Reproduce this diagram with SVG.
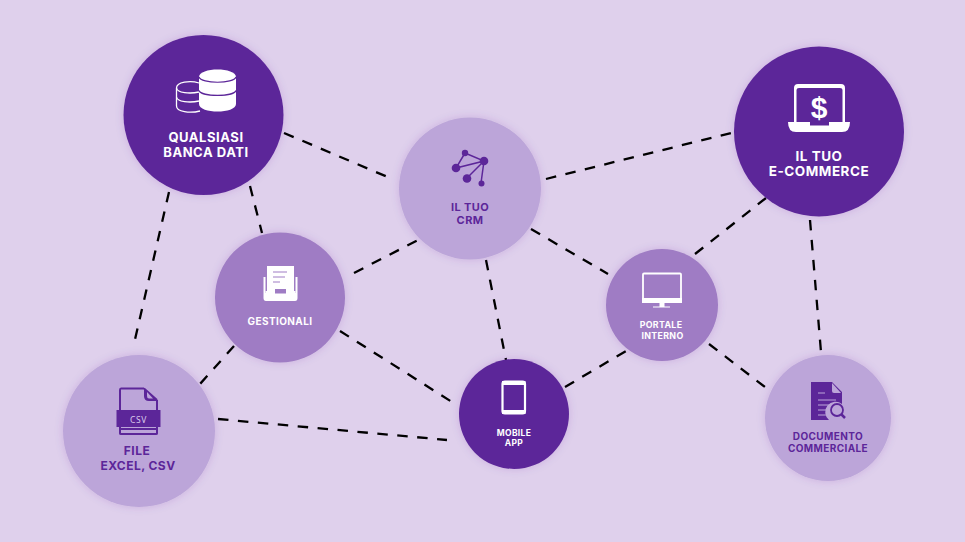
<svg xmlns="http://www.w3.org/2000/svg" width="965" height="542" viewBox="0 0 965 542">
  <style>
    text { font-family: "Inter", "Liberation Sans", sans-serif; font-weight: 700; text-anchor: middle; }
    .dark { fill: #5c2699; }
    .mid { fill: #9f7cc4; }
    .light { fill: #bca5d9; }
    .w { fill: #fff; }
    .p { fill: #5c2699; }
    .links line { stroke: #000; stroke-width: 2.300; stroke-dasharray: 10.500 9.500; fill: none; }
  </style>
  <defs>
    <filter id="halo" x="-20%" y="-20%" width="140%" height="140%">
      <feDropShadow dx="0" dy="0" stdDeviation="4" flood-color="#5c2699" flood-opacity="0.16"/>
    </filter>
  </defs>
  <rect width="965" height="542" fill="#dfd0ec"/>

  <g id="connectors" class="links">
    <line x1="284" y1="133" x2="390" y2="178"/>
    <line x1="169" y1="192" x2="133" y2="348"/>
    <line x1="250" y1="186" x2="262" y2="233"/>
    <line x1="546" y1="179" x2="731" y2="133"/>
    <line x1="354" y1="273" x2="418" y2="240"/>
    <line x1="531" y1="229" x2="608" y2="274"/>
    <line x1="486" y1="260" x2="506" y2="360"/>
    <line x1="695" y1="254" x2="766" y2="198"/>
    <line x1="810" y1="220" x2="821" y2="352"/>
    <line x1="340" y1="331" x2="452" y2="402"/>
    <line x1="234" y1="346" x2="200" y2="384"/>
    <line x1="218" y1="419" x2="447" y2="440"/>
    <line x1="565" y1="387" x2="626" y2="351"/>
    <line x1="709" y1="344" x2="765" y2="387"/>
  </g>

  <g id="banca-dati">
    <circle class="dark" cx="203.500" cy="115" r="80" filter="url(#halo)"/>
    <!-- small outlined cylinder behind the solid one -->
    <g fill="none" stroke="#fff" stroke-width="1.300">
      <path d="M199 83 C190 80 176.500 82 176.500 88 V106 C176.500 112 190 113.500 200 111"/>
      <path d="M176.500 88 C177 93 190 94 199 92"/>
      <path d="M176.500 97 C177 102 190 103 199 101"/>
    </g>
    <path class="w" d="M199 77 C199 67 236 67 236 77 V104 C236 114 199 114 199 104Z"/>
    <g fill="none" stroke="#5c2699" stroke-width="1.200">
      <path d="M199 77 C201 84 234 84 236 77"/>
      <path d="M199 90.500 C201 97 234 97 236 90.500"/>
    </g>
    <text class="w" x="206" y="142" font-size="13" letter-spacing="0.550">QUALSIASI</text>
    <text class="w" x="206" y="157" font-size="13" letter-spacing="0.550">BANCA DATI</text>
  </g>

  <g id="e-commerce">
    <circle class="dark" cx="819" cy="131.500" r="85" filter="url(#halo)"/>
    <path class="w" d="M794 122 V88 Q794 84 798 84 H841 Q845 84 845 88 V122 H842.500 V90 Q842.500 88 840 88 H799 Q796.500 88 796.500 90 V122Z"/>
    <path class="w" d="M788 122 H810 V125.500 H829 V122 H850 Q850 132 842 132 H796 Q788 132 788 122Z"/>
    <text class="w" x="819" y="118" font-size="30" style="font-family:'Liberation Sans',sans-serif">$</text>
    <text class="w" x="819" y="161" font-size="13.500" letter-spacing="0.500">IL TUO</text>
    <text class="w" x="819" y="176" font-size="13.500" letter-spacing="0.500">E-COMMERCE</text>
  </g>

  <g id="crm">
    <circle class="light" cx="470" cy="188.500" r="71" filter="url(#halo)"/>
    <g fill="none" stroke="#5c2699" stroke-width="1.500">
      <path d="M465 153 L484 161 L456 168 L465 153 M484 161 L467 178 M484 161 L481 183"/>
    </g>
    <circle class="p" cx="465" cy="153" r="3.200"/>
    <circle class="p" cx="484" cy="161" r="4.300"/>
    <circle class="p" cx="456" cy="168" r="4.300"/>
    <circle class="p" cx="467" cy="178.500" r="4.300"/>
    <circle class="p" cx="481.500" cy="183.500" r="3"/>
    <text class="p" x="470" y="211" font-size="11" letter-spacing="0.400">IL TUO</text>
    <text class="p" x="470" y="224" font-size="11" letter-spacing="0.400">CRM</text>
  </g>

  <g id="gestionali">
    <circle class="mid" cx="280" cy="297.500" r="65" filter="url(#halo)"/>
    <path class="w" d="M267 266 H294 V292 H267Z"/>
    <path class="w" d="M263.500 277 H265.500 V293 H295.500 V277 H297.500 V298 Q297.500 301 295 301 H266 Q263.500 301 263.500 298Z"/>
    <path class="w" d="M265.500 291 H295.500 V295 H265.500Z"/>
    <rect x="275" y="289" width="11" height="4.500" fill="#9f7cc4"/>
    <g stroke="#9f7cc4" stroke-width="1" fill="none">
      <line x1="273" y1="272" x2="287" y2="272"/>
      <line x1="273" y1="277" x2="285" y2="277"/>
      <line x1="273" y1="282" x2="280" y2="282"/>
    </g>
    <text class="w" x="280" y="325" font-size="10" letter-spacing="0.400">GESTIONALI</text>
  </g>

  <g id="file-csv">
    <circle class="light" cx="139" cy="431" r="76" filter="url(#halo)"/>
    <path d="M144 388.500 H121 Q120 388.500 120 390 V411 M157 400 V411 M144 388.500 L157 400" fill="none" stroke="#5c2699" stroke-width="2"/>
    <path class="p" d="M144 388 L158 401 H149 Q144 401 144 396Z"/>
    <path d="M147 392 L153 398.500 H149 Q147 398.500 147 396Z" fill="#bca5d9"/>
    <rect class="p" x="116.500" y="410" width="44" height="17"/>
    <path d="M120 427 V433.500 Q120 434 121 434 H156 Q157 434 157 433.500 V427 M120 429 H157" fill="none" stroke="#5c2699" stroke-width="2"/>
    <text x="138.500" y="423" font-size="8.500" fill="#d9c9ea" style="font-weight:400;font-family:'Noto Sans',sans-serif" letter-spacing="0.600">CSV</text>
    <text class="p" x="137" y="455" font-size="12" letter-spacing="0.450">FILE</text>
    <text class="p" x="138" y="470" font-size="12" letter-spacing="0.450">EXCEL, CSV</text>
  </g>

  <g id="mobile-app">
    <circle class="dark" cx="514" cy="414" r="55" filter="url(#halo)"/>
    <rect x="502.500" y="381.500" width="22.500" height="32" rx="2.500" fill="none" stroke="#fff" stroke-width="2.200"/>
    <path class="w" d="M502 385 H525.500 V381 H502Z M502 410 H525.500 V414 H502Z"/>
    <text class="w" x="514" y="436" font-size="8.500" letter-spacing="0.350">MOBILE</text>
    <text class="w" x="514" y="446" font-size="8.500" letter-spacing="0.350">APP</text>
  </g>

  <g id="portale">
    <circle class="mid" cx="662" cy="305" r="56" filter="url(#halo)"/>
    <rect x="643" y="273.500" width="38" height="28" rx="1" fill="none" stroke="#fff" stroke-width="1.800"/>
    <rect class="w" x="642" y="298" width="40" height="5"/>
    <path class="w" d="M659.500 303 H664.500 V306.500 H670 V307.500 H653 V306.500 H659.500Z"/>
    <text class="w" x="661" y="328" font-size="8.800" letter-spacing="0.350">PORTALE</text>
    <text class="w" x="662.500" y="339" font-size="8.800" letter-spacing="0.350">INTERNO</text>
  </g>

  <g id="documento">
    <circle class="light" cx="828" cy="418" r="63" filter="url(#halo)"/>
    <path class="p" d="M811 382 H832 L842 392 V404 A10 10 0 0 0 829 420 H811Z"/>
    <path d="M832 383 L841 393 H834 Q832 393 832 391Z" fill="#bca5d9"/>
    <g stroke="#bca5d9" stroke-width="1" fill="none">
      <line x1="818" y1="393" x2="825" y2="393"/>
      <line x1="818" y1="400" x2="836" y2="400"/>
      <line x1="818" y1="405" x2="830" y2="405"/>
      <line x1="818" y1="410" x2="827" y2="410"/>
      <line x1="818" y1="415" x2="827" y2="415"/>
    </g>
    <circle cx="837" cy="410" r="6" fill="#bca5d9" stroke="#5c2699" stroke-width="1.800"/>
    <line x1="841.500" y1="414.500" x2="845" y2="418" stroke="#5c2699" stroke-width="2.500"/>
    <text class="p" x="828" y="440" font-size="10" letter-spacing="0.400">DOCUMENTO</text>
    <text class="p" x="828" y="452" font-size="10" letter-spacing="0.400">COMMERCIALE</text>
  </g>
</svg>
